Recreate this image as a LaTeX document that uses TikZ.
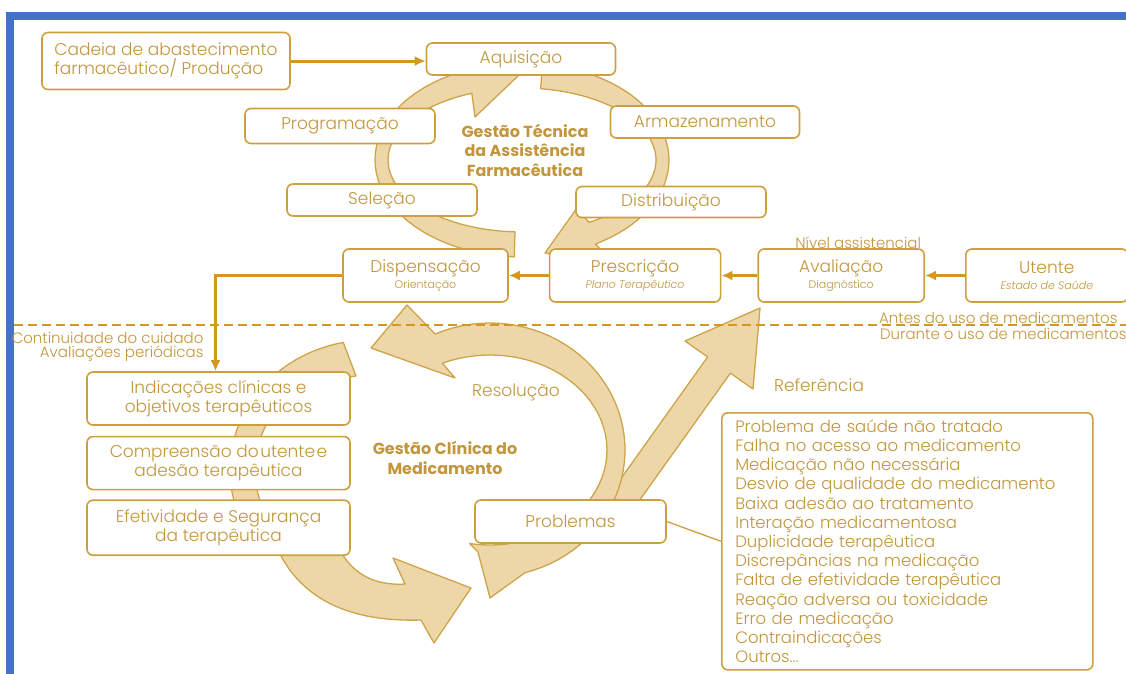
\documentclass[tikz,border=0pt]{standalone}
\usepackage{fontspec}
\setmainfont{Poppins Light}[BoldFont={Poppins Bold},
  ItalicFont={Poppins Light Italic}]
\usetikzlibrary{positioning,arrows.meta}

\definecolor{frameblue}{RGB}{68,114,196}
\definecolor{goldline}{RGB}{204,160,62}
\definecolor{goldarrow}{RGB}{212,152,32}
\definecolor{goldtext}{RGB}{194,150,60}
\definecolor{goldfill}{RGB}{237,215,168}
\definecolor{goldedge}{RGB}{206,164,74}
\newcommand{\subfont}{\fontsize{11}{12}\selectfont}

\begin{document}
\begin{tikzpicture}[x=1pt,y=-1pt,>={Latex[length=11pt,width=10pt]},
  font=\fontsize{17}{19}\selectfont,text=goldtext]
\tikzstyle{box}=[draw=goldline,line width=1.6pt,rounded corners=6pt,fill=white,
  align=center,inner sep=2pt]
\tikzstyle{flow}=[draw=goldarrow,line width=3pt,->]
\tikzstyle{big}=[fill=goldfill,draw=goldedge,line width=1.3pt,line join=round]
\tikzstyle{title}=[font=\fontsize{16}{19.5}\selectfont\bfseries,align=center]
\tikzstyle{note}=[font=\fontsize{15}{14}\selectfont]

\useasboundingbox (0,0) rectangle (1126,673);
\draw[frameblue,line width=8pt] (10,16) rectangle (1170,720);

% ciclo da gestao tecnica
\filldraw[big] plot[domain=93:248,samples=40] ({522+147*cos(\x)},{160+97*sin(\x)})
  -- (461,58) -- (518,76) -- (475,117)
  -- plot[domain=248:93,samples=40] ({522+134*cos(\x)},{160+72*sin(\x)}) -- cycle;
\filldraw[big] plot[domain=278:420,samples=40] ({522+147*cos(\x)},{160+97*sin(\x)})
  -- (612,262) -- (545,253) -- (577,208)
  -- plot[domain=420:278,samples=40] ({522+134*cos(\x)},{160+72*sin(\x)}) -- cycle;

% ciclo da gestao clinica
\filldraw[big] plot[domain=160:259,samples=30] ({370+140*cos(\x)},{470+130*sin(\x)})
  -- (356,376)
  -- plot[domain=236:160,samples=30] ({370+115*cos(\x)},{470+105*sin(\x)}) -- cycle;
\filldraw[big] (272,535) .. controls (295,603) and (355,622) .. (421,620)
  -- (434,643) -- (471,588) -- (393,558) -- (405,584)
  .. controls (372,586) and (348,572) .. (335,540) -- cycle;
\filldraw[big] (595,515) -- (707.6,356.9) -- (685,341) -- (760,308)
  -- (753,389) -- (730.4,373.1) -- (629,515) -- cycle;
\filldraw[big] (490,598) -- plot[domain=75:-114,samples=50] ({490+135*cos(\x)},{450+127*sin(\x)})
  -- (407,305) -- (371,348) -- (455,378)
  -- plot[domain=-114:100,samples=50] ({490+117*cos(\x)},{450+95*sin(\x)})
  -- (478,552) -- cycle;

% divisoria
\coordinate (divL) at (14,325);
\coordinate (divR) at (1126,325);
\draw[goldarrow,line width=2.5pt,dash pattern=on 9pt off 5pt] (divL) -- (divR);

\node[box,minimum width=248pt,minimum height=57pt,align=left] (cadeia) at (166,61)
  {Cadeia de abastecimento\\farmacêutico/ Produção};
\node[box,minimum width=189pt,minimum height=32pt] (aquis) at (521,59) {Aquisição};
\node[box,minimum width=190pt,minimum height=35pt] (prog) at (340,126) {Programação};
\node[box,minimum width=189pt,minimum height=32pt] (arm) at (705,122) {Armazenamento};
\node[box,minimum width=190pt,minimum height=32pt] (sel) at (382,200) {Seleção};
\node[box,minimum width=190pt,minimum height=31pt] (dist) at (671,202) {Distribuição};
\node[title] (gtec) at (525,150) {Gestão Técnica\\da Assistência\\Farmacêutica};

\node[box,minimum width=165pt,minimum height=53pt] (disp) at (425.5,275.5)
  {Dispensação\\[-3pt]{\subfont Orientação}};
\node[box,minimum width=171pt,minimum height=53pt,right=40pt of disp] (presc)
  {Prescrição\\[-3pt]{\subfont\itshape Plano Terapêutico}};
\node[box,minimum width=166pt,minimum height=53pt,right=36pt of presc] (aval)
  {Avaliação\\[-3pt]{\subfont Diagnóstico}};
\node[box,minimum width=162pt,minimum height=53pt,right=40pt of aval] (utente)
  {Utente\\[-3pt]{\subfont\itshape Estado de Saúde}};
\node[note,anchor=base] (nivel) at ([xshift=17pt]aval.north) {Nível assistencial};

\node[note,anchor=base east] (antes) at (1121,323) {Antes do uso de medicamentos};
\node[note,anchor=base east] (durante) at (1130,339) {Durante o uso de medicamentos};
\node[note,anchor=north east,align=right] (cont) at (207,329)
  {Continuidade do cuidado\\Avaliações periódicas};

\node[box,minimum width=263pt,minimum height=53pt] (indic) at (218.5,398.5)
  {Indicações clínicas e\\objetivos terapêuticos};
\node[box,minimum width=263pt,minimum height=53pt,below=10pt of indic] (compr)
  {Compreensão do\hspace{1.5pt}utente\hspace{1.5pt}e\\adesão terapêutica};
\node[box,minimum width=263pt,minimum height=55pt,below=9pt of compr] (efet)
  {Efetividade e Segurança\\da terapêutica};
\node[title] (gcli) at (445,458) {Gestão Clínica do\\Medicamento};
\node (resol) at (516,392) {Resolução};
\node (refer) at (819,385) {Referência};

\node[box,minimum width=191pt,minimum height=43pt] (prob) at (570.5,521.5) {Problemas};
\node[box,anchor=north west,minimum width=371pt,minimum height=257pt,text width=344pt,
  inner xsep=13pt,align=left,font=\fontsize{16.5}{19.2}\selectfont] (lista) at (721,412)
  {Problema de saúde não tratado\\Falha no acesso ao medicamento\\
   Medicação não necessária\\Desvio de qualidade do medicamento\\
   Baixa adesão ao tratamento\\Interação medicamentosa\\Duplicidade terapêutica\\
   Discrepâncias na medicação\\Falta de efetividade terapêutica\\
   Reação adversa ou toxicidade\\Erro de medicação\\Contraindicações\\Outros...};

\draw[flow] (cadeia.east) -- (cadeia.east -| aquis.west);
\draw[flow] (utente.west) -- (aval.east);
\draw[flow] (aval.west) -- (presc.east);
\draw[flow] (presc.west) -- (disp.east);
\draw[flow] (disp.west) -| ([xshift=-3pt]indic.north);
\draw[goldline,line width=1.3pt] (prob.east) -- (lista.west);
\end{tikzpicture}
\end{document}
